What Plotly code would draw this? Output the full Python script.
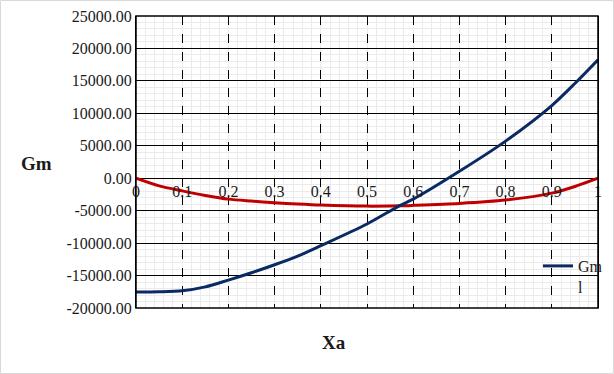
import plotly.graph_objects as go

xa = [0.0, 0.05, 0.1, 0.15, 0.2, 0.25, 0.3, 0.35, 0.4, 0.5, 0.57, 0.6, 0.7, 0.8, 0.9, 0.95, 1.0]
gm_blue = [-17530, -17500, -17350, -16750, -15700, -14570, -13340, -12010, -10400,
           -7055, -4250, -3220, 1070, 5720, 11200, 14600, 18250]
gm_red = [0, -1180, -1950, -2650, -3220, -3520, -3780, -3980, -4140,
          -4300, -4250, -4180, -3880, -3370, -2300, -1270, 0]

y_ticks = [25000, 20000, 15000, 10000, 5000, 0, -5000, -10000, -15000, -20000]
y_ticktext = [f"{v:.2f}" for v in y_ticks]
x_ticks = [0, 0.1, 0.2, 0.3, 0.4, 0.5, 0.6, 0.7, 0.8, 0.9, 1]
x_ticktext = ["0", "0.1", "0.2", "0.3", "0.4", "0.5", "0.6", "0.7", "0.8", "0.9", "1"]

FONT = "Liberation Serif, Times New Roman, serif"
W, H = 614, 374
ML, MR, MT, MB = 136, 16, 16, 66
PW, PH = W - ML - MR, H - MT - MB

fig = go.Figure()
fig.add_trace(go.Scatter(x=xa, y=gm_red, mode="lines",
                         line=dict(color="#c00000", width=3, shape="spline", smoothing=0.8),
                         showlegend=False, name="red"))
fig.add_trace(go.Scatter(x=xa, y=gm_blue, mode="lines",
                         line=dict(color="#0b2a63", width=3, shape="spline", smoothing=0.8),
                         name="Gm<br>l"))

ymin, ymax = -20000, 25000
fig.update_layout(
    width=W, height=H, autosize=False,
    margin=dict(l=ML, r=MR, t=MT, b=MB, autoexpand=False),
    paper_bgcolor="white", plot_bgcolor="white",
    font=dict(family=FONT, size=16, color="#1a1a1a"),
    xaxis=dict(range=[0, 1], tickvals=x_ticks, ticktext=x_ticktext, anchor="free",
               position=(0 - ymin) / (ymax - ymin),
               showgrid=True, gridcolor="black", gridwidth=1, griddash="dash",
               minor=dict(dtick=0.02, showgrid=True, gridcolor="#ebebeb", gridwidth=1, griddash="solid"),
               zeroline=False, showline=False, ticks="", ticklabelstandoff=2,
               tickfont=dict(family=FONT, size=16, color="#1a1a1a")),
    yaxis=dict(range=[ymin, ymax], tickvals=y_ticks, ticktext=y_ticktext,
               showgrid=True, gridcolor="black", gridwidth=1, griddash="solid",
               minor=dict(dtick=1000, showgrid=True, gridcolor="#ebebeb", gridwidth=1, griddash="solid"),
               zeroline=False, showline=True, linecolor="black", mirror=True, ticks="",
               tickfont=dict(family=FONT, size=16, color="#1a1a1a")),
    legend=dict(x=(538 - ML) / PW, y=1 - (249 - MT) / PH, valign="top",
                xanchor="left", yanchor="top", bgcolor="rgba(0,0,0,0)",
                font=dict(family=FONT, size=16, color="#1a1a1a"), tracegroupgap=0),
    shapes=[
        dict(type="rect", xref="paper", yref="paper", x0=0, x1=1, y0=0, y1=1,
             line=dict(color="black", width=1.5), layer="above"),
        dict(type="rect", xref="paper", yref="paper",
             x0=(-ML + 0.5) / PW, x1=1 + (MR - 0.5) / PW,
             y0=-(MB - 0.5) / PH, y1=1 + (MT - 0.5) / PH,
             line=dict(color="#d9d9d9", width=1)),
    ],
    annotations=[
        dict(text="<b>Gm</b>", xref="paper", yref="paper", x=(36 - ML) / PW, y=1 - (163 - MT) / PH,
             showarrow=False, font=dict(family=FONT, size=19, color="#1a1a1a"),
             xanchor="center", yanchor="middle"),
        dict(text="<b>Xa</b>", xref="paper", yref="paper", x=(334 - ML) / PW, y=1 - (342 - MT) / PH,
             showarrow=False, font=dict(family=FONT, size=19, color="#1a1a1a"),
             xanchor="center", yanchor="middle"),
    ],
)

fig.write_html("out.html", config={"responsive": False})
